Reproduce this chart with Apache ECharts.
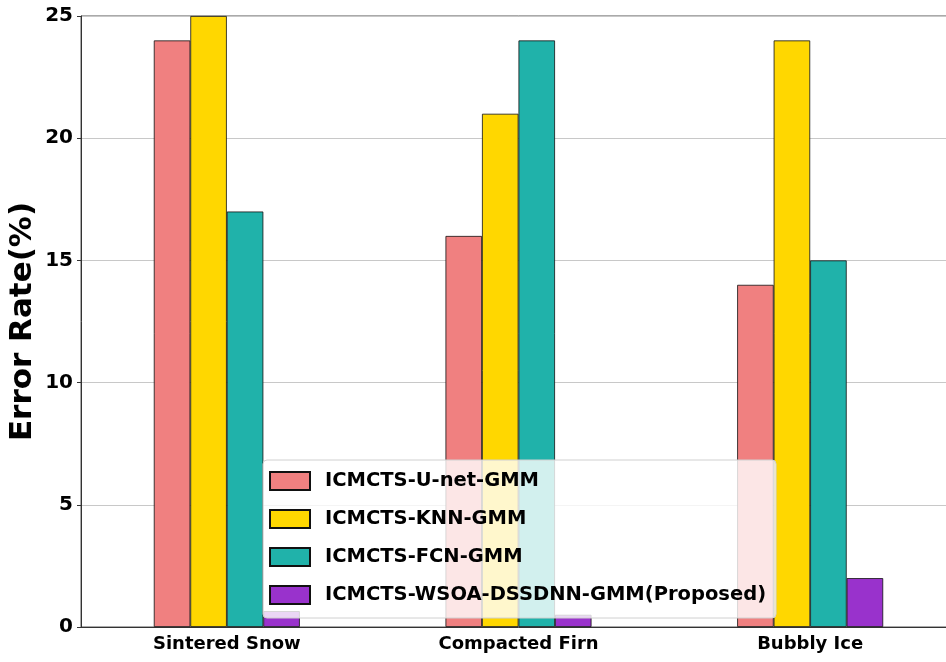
<!DOCTYPE html>
<html>
<head>
<meta charset="utf-8">
<script src="https://cdn.jsdelivr.net/npm/echarts@6/dist/echarts.min.js"></script>
<style>html,body{margin:0;padding:0;background:#fff;overflow:hidden}#c{width:957px;height:662px}</style>
</head>
<body>
<div id="c"></div>
<script>
const categories = ['Sintered Snow', 'Compacted Firn', 'Bubbly Ice'];
const seriesNames = ['ICMCTS-U-net-GMM', 'ICMCTS-KNN-GMM', 'ICMCTS-FCN-GMM', 'ICMCTS-WSOA-DSSDNN-GMM(Proposed)'];
const unetValues = [24, 16, 14];
const knnValues = [25, 21, 24];
const fcnValues = [17, 24, 15];
const proposedValues = [0.65, 0.5, 2];
const yTicks = [0, 5, 10, 15, 20, 25];
const colors = ['#F08080', '#FFD700', '#20B2AA', '#9932CC'];

const allValues = [unetValues, knnValues, fcnValues, proposedValues];
const font = 'DejaVu Sans';
const chart = echarts.init(document.getElementById('c'), null, {renderer: 'canvas'});
chart.setOption({
  animation: false,
  backgroundColor: '#fff',
  grid: {left: 81, right: 1, top: 16, bottom: 35, show: true, borderColor: '#555', borderWidth: 1, backgroundColor: 'transparent', containLabel: false, outerBoundsMode: 'none'},
  legend: {
    orient: 'vertical', left: 263, top: 460,
    icon: 'rect',
    itemWidth: 40, itemHeight: 18, itemGap: 18,
    padding: [11, 10, 13, 6],
    backgroundColor: 'rgba(255,255,255,0.8)',
    borderColor: '#d0d0d0', borderWidth: 1, borderRadius: 4,
    textStyle: {fontFamily: font, fontWeight: 'bold', fontSize: 19.5, color: '#000', lineHeight: 19, padding: [0, 0, 0, 10]},
    data: seriesNames,
    z: 10
  },
  xAxis: {
    type: 'category', data: categories,
    axisLine: {lineStyle: {color: '#333', width: 1}},
    axisTick: {alignWithLabel: true, length: 5, lineStyle: {color: '#333'}},
    axisLabel: {fontFamily: font, fontWeight: 'bold', fontSize: 18, color: '#000', margin: 8}
  },
  yAxis: {
    type: 'value', min: 0, max: 25, interval: 5,
    name: 'Error Rate(%)', nameLocation: 'middle', nameGap: 43, nameMoveOverlap: false,
    nameTextStyle: {fontFamily: font, fontWeight: 'bold', fontSize: 31, color: '#000'},
    axisLine: {show: true, lineStyle: {color: '#333', width: 1}},
    axisTick: {show: true, length: 4, lineStyle: {color: '#333'}},
    axisLabel: {fontFamily: font, fontWeight: 'bold', fontSize: 20, color: '#000', margin: 8,
      formatter: v => yTicks.includes(v) ? String(v) : ''},
    splitLine: {show: true, lineStyle: {color: '#c8c8c8', width: 1}}
  },
  series: seriesNames.map((n, i) => ({
    name: n, type: 'bar', data: allValues[i],
    barWidth: 36.5, barGap: '0%',
    itemStyle: {color: colors[i], borderColor: '#111', borderWidth: 0.8}
  }))
});
</script>
</body>
</html>
